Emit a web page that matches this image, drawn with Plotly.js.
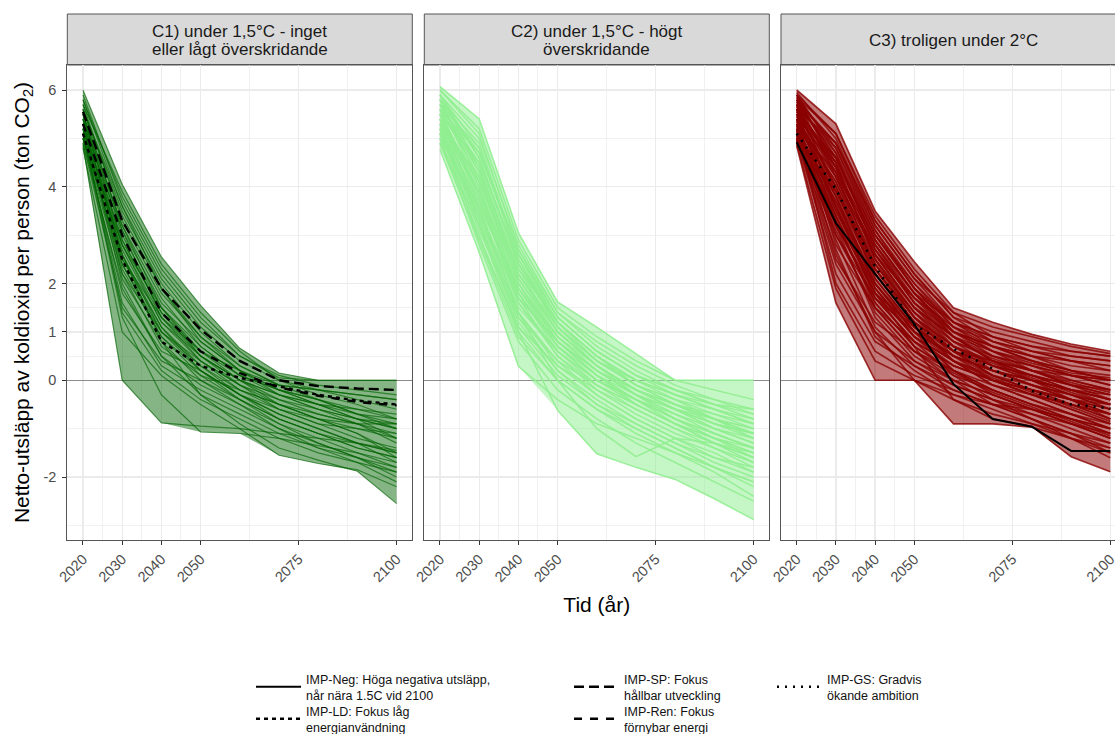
<!DOCTYPE html>
<html><head><meta charset="utf-8">
<script src="https://cdn.plot.ly/plotly-3.0.1.min.js"></script>
<style>html,body{margin:0;padding:0;background:#fff}#chart{width:1115px;height:734px}</style>
</head><body><div id="chart"></div>
<script>
// ---------- DATA ----------
const years = [2020, 2030, 2040, 2050, 2060, 2070, 2080, 2090, 2100];
const xTickVals = [2020, 2030, 2040, 2050, 2075, 2100];
const xMinorVals = [2025, 2035, 2045, 2062.5, 2087.5];
const yTickVals = [-2, 0, 1, 2, 4, 6];
const yMinorVals = [-3, -1, 0.5, 1.5, 3, 5];
const stripLines = [
  ["C1) under 1,5°C - inget", "eller lågt överskridande"],
  ["C2) under 1,5°C - högt", "överskridande"],
  ["C3) troligen under 2°C"]
];
const xTitle = "Tid (år)";
const yTitle = "Netto-utsläpp av koldioxid per person (ton CO<sub>2</sub>)";

const c1Paths = [
  [6.00, 4.05, 2.55, 1.55, 0.66, 0.15, 0.00, 0.00, 0.00],
  [4.85, 0.00, -0.88, -0.95, -1.00, -1.10, -1.20, -1.30, -1.45],
  [5.10, 1.30, -0.30, -1.07, -1.10, -1.20, -1.35, -1.50, -1.70],
  [5.30, 2.60, 0.80, -0.30, -0.90, -1.40, -1.65, -1.88, -2.55],
  [4.80, 1.00, 0.10, -0.50, -1.00, -1.55, -1.72, -1.85, -2.20],
  [5.80, 3.80, 2.30, 1.30, 0.50, 0.05, 0.00, 0.00, 0.00],
  [5.60, 3.50, 2.00, 1.00, 0.30, -0.10, -0.20, -0.30, -0.40],
  [5.40, 3.20, 1.70, 0.70, 0.10, -0.30, -0.50, -0.60, -0.70],
  [5.20, 2.90, 1.40, 0.50, 0.00, -0.40, -0.70, -0.90, -1.10],
  [5.00, 2.40, 1.00, 0.30, -0.20, -0.50, -0.80, -1.00, -1.20],
  [5.50, 3.00, 1.50, 0.60, 0.10, -0.20, -0.40, -0.70, -0.90],
  [5.70, 3.30, 1.80, 0.90, 0.20, -0.30, -0.60, -0.90, -1.30],
  [5.10, 2.20, 0.70, 0.10, -0.40, -0.80, -1.10, -1.40, -1.60],
  [5.30, 2.00, 0.50, -0.10, -0.50, -0.90, -1.20, -1.50, -1.80],
  [5.00, 1.80, 0.60, 0.20, -0.30, -0.70, -1.00, -1.30, -1.50],
  [5.60, 3.60, 2.10, 1.10, 0.40, 0.00, -0.30, -0.50, -0.80],
  [5.20, 2.70, 1.20, 0.40, -0.10, -0.60, -0.90, -1.20, -1.40],
  [5.40, 2.50, 1.10, 0.20, -0.30, -0.70, -1.00, -1.30, -1.70],
  [5.90, 3.70, 2.20, 1.20, 0.50, 0.10, -0.10, -0.20, -0.30],
  [5.10, 1.60, 0.30, -0.20, -0.60, -1.00, -1.30, -1.60, -1.90],
  [5.50, 2.80, 1.30, 0.40, -0.20, -0.60, -0.90, -1.00, -1.10],
  [5.30, 3.10, 1.60, 0.80, 0.20, -0.20, -0.50, -0.80, -1.00],
  [4.90, 1.50, 0.40, 0.00, -0.40, -0.80, -1.10, -1.40, -1.60],
  [5.20, 2.30, 0.90, 0.20, -0.40, -0.90, -1.30, -1.60, -2.00],
  [5.60, 3.40, 1.90, 0.90, 0.30, -0.10, -0.40, -0.70, -1.00],
  [5.00, 2.10, 0.80, 0.00, -0.50, -1.00, -1.40, -1.70, -2.10],
  [5.40, 2.90, 1.40, 0.60, 0.00, -0.50, -0.80, -1.10, -1.50],
  [5.70, 3.90, 2.40, 1.40, 0.60, 0.00, -0.20, -0.40, -0.60],
  [5.10, 2.60, 1.10, 0.30, -0.30, -0.60, -0.80, -0.90, -0.90],
  [5.30, 2.20, 1.00, 0.40, -0.10, -0.40, -0.60, -0.80, -0.90],
  [4.90, 1.90, 0.50, -0.30, -0.70, -1.10, -1.40, -1.60, -1.80],
  [5.50, 3.20, 1.50, 0.50, -0.10, -0.50, -0.70, -0.90, -1.20],
  [5.20, 1.40, 0.20, -0.40, -0.80, -1.20, -1.50, -1.70, -1.90],
  [5.80, 3.60, 1.90, 0.80, 0.20, -0.20, -0.50, -0.80, -1.20],
  [5.00, 2.80, 1.20, 0.50, 0.00, -0.30, -0.50, -0.70, -0.80],
  [5.40, 2.40, 0.90, 0.10, -0.20, -0.50, -0.80, -1.10, -1.60],
  [5.60, 3.10, 1.30, 0.50, 0.00, -0.30, -0.60, -0.80, -1.00],
  [5.20, 2.80, 1.50, 0.70, 0.10, -0.20, -0.40, -0.60, -0.80],
  [5.50, 2.60, 1.00, 0.20, -0.30, -0.80, -1.10, -1.30, -1.50],
  [5.00, 2.50, 1.30, 0.60, 0.20, -0.10, -0.20, -0.30, -0.40]
];

const c2Paths = [
  [6.07, 5.40, 3.05, 1.62, 1.10, 0.55, 0.00, 0.00, 0.00],
  [4.77, 2.64, 0.29, -0.40, -0.90, -1.20, -1.50, -1.80, -2.10],
  [5.20, 3.20, 1.00, -0.62, -1.52, -1.80, -2.05, -2.45, -2.88],
  [5.40, 3.60, 1.40, 0.00, -1.00, -1.58, -1.20, -1.30, -1.50],
  [6.00, 5.20, 2.90, 1.50, 0.90, 0.40, 0.00, -0.20, -0.40],
  [5.90, 4.80, 2.60, 1.30, 0.60, 0.10, -0.30, -0.60, -0.90],
  [5.80, 4.60, 2.40, 1.10, 0.40, -0.10, -0.50, -0.80, -1.10],
  [5.70, 4.40, 2.20, 1.00, 0.30, -0.20, -0.60, -1.00, -1.30],
  [5.60, 4.20, 2.00, 0.80, 0.10, -0.40, -0.80, -1.10, -1.40],
  [5.50, 4.00, 1.80, 0.70, 0.00, -0.50, -0.90, -1.30, -1.60],
  [5.40, 3.80, 1.60, 0.50, -0.20, -0.70, -1.10, -1.40, -1.70],
  [5.30, 3.50, 1.40, 0.30, -0.30, -0.80, -1.20, -1.60, -1.90],
  [5.10, 3.30, 1.20, 0.20, -0.50, -1.00, -1.40, -1.80, -2.20],
  [5.00, 3.00, 1.00, 0.00, -0.60, -1.10, -1.50, -1.90, -2.40],
  [4.90, 2.90, 1.10, 0.30, -0.20, -0.60, -1.00, -1.30, -1.60],
  [5.80, 4.30, 2.30, 1.20, 0.50, 0.00, -0.40, -0.70, -1.00],
  [5.60, 4.70, 2.70, 1.40, 0.70, 0.20, -0.20, -0.50, -0.80],
  [5.90, 5.00, 2.80, 1.40, 0.80, 0.30, -0.10, -0.40, -0.70],
  [5.50, 3.70, 1.70, 0.80, 0.20, -0.30, -0.70, -1.00, -1.20],
  [5.30, 3.90, 2.10, 1.00, 0.30, -0.30, -0.80, -1.20, -1.50],
  [5.70, 4.50, 2.50, 1.20, 0.50, -0.10, -0.50, -0.90, -1.20],
  [5.20, 3.40, 1.50, 0.60, 0.00, -0.40, -0.70, -1.00, -1.30],
  [5.00, 3.60, 1.90, 0.90, 0.20, -0.30, -0.60, -0.90, -1.10],
  [5.40, 4.10, 2.20, 1.10, 0.40, -0.10, -0.40, -0.60, -0.80],
  [5.60, 3.80, 1.80, 0.60, -0.10, -0.60, -1.00, -1.40, -1.80],
  [5.80, 4.90, 2.60, 1.20, 0.50, 0.00, -0.30, -0.60, -0.90],
  [5.10, 3.10, 1.30, 0.40, -0.10, -0.50, -0.90, -1.20, -1.50],
  [5.90, 4.40, 2.10, 0.90, 0.20, -0.30, -0.70, -1.10, -1.40],
  [5.30, 3.30, 1.10, 0.10, -0.50, -0.90, -1.30, -1.70, -2.00],
  [5.50, 4.50, 2.40, 1.10, 0.40, 0.00, -0.30, -0.50, -0.60],
  [5.70, 4.00, 1.90, 0.70, 0.00, -0.40, -0.80, -1.20, -1.60],
  [5.20, 3.70, 1.80, 0.70, 0.10, -0.30, -0.60, -0.80, -1.00],
  [4.90, 3.20, 1.40, 0.40, -0.30, -0.80, -1.20, -1.50, -1.90],
  [6.00, 5.10, 2.70, 1.30, 0.60, 0.10, -0.20, -0.40, -0.60],
  [5.40, 3.50, 1.60, 0.60, 0.00, -0.40, -0.80, -1.10, -1.40],
  [5.60, 4.40, 2.30, 1.00, 0.30, -0.20, -0.60, -0.90, -1.10],
  [5.10, 3.50, 1.70, 0.80, 0.20, -0.20, -0.50, -0.80, -1.20],
  [5.80, 4.10, 2.00, 0.80, 0.10, -0.50, -0.90, -1.30, -1.70],
  [5.00, 2.80, 0.80, -0.20, -0.80, -1.30, -1.70, -2.10, -2.50],
  [5.30, 4.20, 2.20, 1.00, 0.30, -0.20, -0.50, -0.70, -0.90],
  [5.70, 4.80, 2.50, 1.10, 0.30, -0.20, -0.60, -1.00, -1.30],
  [5.50, 3.90, 1.90, 0.80, 0.10, -0.40, -0.90, -1.30, -1.60],
  [5.20, 2.90, 0.90, 0.00, -0.60, -1.00, -1.40, -1.80, -2.10],
  [5.90, 4.60, 2.40, 1.20, 0.40, -0.10, -0.40, -0.80, -1.10],
  [5.60, 4.30, 2.00, 0.90, 0.30, -0.20, -0.50, -0.80, -1.00],
  [5.40, 3.90, 1.70, 0.50, -0.10, -0.50, -0.90, -1.20, -1.40],
  [5.10, 3.40, 1.30, 0.20, -0.40, -0.90, -1.30, -1.60, -1.80],
  [5.80, 4.70, 2.60, 1.30, 0.60, 0.10, -0.20, -0.50, -0.70]
];

const c3Paths = [
  [6.00, 5.30, 3.50, 2.45, 1.50, 1.20, 0.95, 0.75, 0.60],
  [4.85, 1.60, 0.00, 0.00, -0.30, -0.50, -0.60, -0.80, -1.00],
  [5.00, 2.40, 1.00, 0.00, -0.90, -0.90, -0.97, -1.20, -1.40],
  [5.20, 3.40, 1.80, 0.70, -0.40, -0.80, -0.95, -1.58, -1.89],
  [5.90, 5.10, 3.30, 2.20, 1.30, 1.00, 0.80, 0.60, 0.50],
  [5.80, 4.90, 3.10, 2.00, 1.20, 0.80, 0.60, 0.40, 0.30],
  [5.70, 4.70, 3.00, 1.90, 1.10, 0.70, 0.40, 0.20, 0.00],
  [5.60, 4.50, 2.90, 1.80, 1.00, 0.60, 0.30, 0.00, -0.20],
  [5.50, 4.30, 2.70, 1.60, 0.90, 0.40, 0.10, -0.20, -0.40],
  [5.40, 4.10, 2.50, 1.40, 0.70, 0.30, 0.00, -0.30, -0.60],
  [5.30, 3.90, 2.30, 1.30, 0.60, 0.10, -0.20, -0.50, -0.80],
  [5.20, 3.70, 2.10, 1.10, 0.40, -0.10, -0.40, -0.70, -1.00],
  [5.10, 3.50, 1.90, 0.90, 0.20, -0.30, -0.60, -0.90, -1.20],
  [5.00, 3.20, 1.70, 0.80, 0.10, -0.40, -0.80, -1.10, -1.40],
  [4.95, 3.00, 1.50, 0.60, 0.00, -0.50, -0.80, -1.20, -1.60],
  [5.95, 5.00, 3.20, 2.10, 1.40, 1.10, 0.90, 0.70, 0.55],
  [5.85, 4.80, 3.00, 1.90, 1.20, 0.90, 0.70, 0.50, 0.40],
  [5.75, 4.60, 2.80, 1.70, 1.00, 0.70, 0.50, 0.30, 0.20],
  [5.65, 4.40, 2.60, 1.50, 0.90, 0.60, 0.40, 0.20, 0.10],
  [5.55, 4.20, 2.40, 1.40, 0.80, 0.50, 0.30, 0.10, -0.10],
  [5.45, 4.00, 2.20, 1.20, 0.60, 0.30, 0.10, -0.10, -0.30],
  [5.35, 3.80, 2.00, 1.00, 0.50, 0.20, -0.10, -0.30, -0.50],
  [5.25, 3.60, 1.80, 0.90, 0.40, 0.00, -0.30, -0.50, -0.70],
  [5.15, 3.30, 1.60, 0.70, 0.20, -0.20, -0.50, -0.70, -0.90],
  [5.05, 3.10, 1.40, 0.50, 0.00, -0.30, -0.60, -0.90, -1.10],
  [5.90, 4.70, 2.70, 1.60, 1.00, 0.70, 0.50, 0.40, 0.30],
  [5.80, 4.50, 2.50, 1.50, 0.90, 0.50, 0.30, 0.10, 0.00],
  [5.70, 4.30, 2.30, 1.30, 0.70, 0.40, 0.20, 0.00, -0.20],
  [5.60, 4.00, 2.10, 1.10, 0.50, 0.20, 0.00, -0.20, -0.40],
  [5.50, 3.80, 1.90, 0.90, 0.40, 0.10, -0.20, -0.40, -0.60],
  [5.40, 3.60, 1.70, 0.80, 0.30, 0.00, -0.30, -0.60, -0.90],
  [5.30, 3.40, 1.50, 0.60, 0.10, -0.20, -0.50, -0.80, -1.10],
  [5.20, 3.20, 1.30, 0.40, -0.10, -0.40, -0.70, -1.00, -1.30],
  [5.10, 2.90, 1.10, 0.30, -0.20, -0.50, -0.80, -1.10, -1.50],
  [5.00, 2.70, 0.90, 0.20, -0.30, -0.60, -0.90, -1.20, -1.50],
  [5.85, 5.10, 3.40, 2.30, 1.40, 0.90, 0.60, 0.40, 0.20],
  [5.75, 4.90, 3.20, 2.10, 1.20, 0.70, 0.40, 0.10, -0.10],
  [5.65, 4.80, 3.10, 1.90, 1.00, 0.50, 0.20, -0.10, -0.30],
  [5.55, 4.60, 2.90, 1.80, 0.90, 0.40, 0.10, -0.20, -0.50],
  [5.45, 4.40, 2.80, 1.60, 0.80, 0.30, 0.00, -0.30, -0.60],
  [5.35, 4.20, 2.60, 1.50, 0.70, 0.20, -0.10, -0.40, -0.70],
  [5.25, 4.00, 2.40, 1.30, 0.50, 0.00, -0.30, -0.60, -0.90],
  [5.15, 3.80, 2.20, 1.20, 0.40, -0.10, -0.40, -0.70, -1.00],
  [5.05, 3.60, 2.00, 1.00, 0.20, -0.20, -0.50, -0.80, -1.10],
  [4.95, 3.40, 1.80, 0.90, 0.30, 0.00, -0.20, -0.40, -0.60],
  [5.70, 3.90, 2.20, 1.20, 0.60, 0.30, 0.10, -0.10, -0.20],
  [5.50, 3.50, 1.90, 1.00, 0.50, 0.20, 0.00, -0.20, -0.30],
  [5.30, 3.00, 1.70, 1.00, 0.50, 0.20, 0.00, -0.20, -0.40],
  [5.10, 2.50, 1.20, 0.60, 0.20, -0.10, -0.30, -0.50, -0.70],
  [5.00, 2.20, 0.80, 0.30, -0.10, -0.40, -0.60, -0.80, -1.00],
  [5.40, 2.80, 1.50, 0.80, 0.30, 0.00, -0.20, -0.40, -0.50],
  [5.60, 3.20, 1.80, 1.10, 0.60, 0.40, 0.20, 0.10, 0.00],
  [5.80, 4.20, 2.60, 1.70, 1.10, 0.80, 0.60, 0.50, 0.40],
  [5.90, 4.40, 2.80, 1.80, 1.20, 0.90, 0.70, 0.60, 0.50],
  [5.20, 2.00, 0.60, 0.10, -0.20, -0.50, -0.70, -0.90, -1.20],
  [4.90, 1.90, 0.40, 0.00, -0.40, -0.70, -0.90, -1.10, -1.30],
  [5.60, 4.90, 3.30, 2.20, 1.30, 0.80, 0.50, 0.20, 0.00],
  [5.40, 4.60, 3.00, 2.00, 1.10, 0.60, 0.20, -0.10, -0.40],
  [5.20, 4.30, 2.70, 1.70, 0.90, 0.40, 0.00, -0.40, -0.80],
  [5.00, 3.90, 2.40, 1.40, 0.60, 0.10, -0.20, -0.50, -0.80],
  [5.30, 2.60, 1.00, 0.40, 0.00, -0.30, -0.60, -0.90, -1.20],
  [5.70, 3.60, 2.00, 1.10, 0.50, 0.10, -0.10, -0.30, -0.50],
  [5.50, 4.50, 2.50, 1.30, 0.70, 0.35, 0.05, -0.25, -0.50],
  [5.30, 4.10, 2.30, 1.20, 0.60, 0.20, -0.10, -0.40, -0.70],
  [5.10, 3.70, 2.00, 1.00, 0.40, 0.05, -0.25, -0.55, -0.85],
  [5.60, 4.40, 2.60, 1.50, 0.80, 0.45, 0.20, -0.05, -0.25],
  [5.80, 4.60, 2.90, 1.80, 1.00, 0.60, 0.35, 0.15, 0.05],
  [5.00, 3.30, 1.60, 0.70, 0.15, -0.25, -0.55, -0.85, -1.15]
];

// Illustrative pathways (black)
const impSP  = [5.55, 3.30, 1.90, 1.05, 0.40, 0.00, -0.12, -0.17, -0.20];
const impLD  = [5.10, 2.50, 0.80, 0.30, 0.05, -0.12, -0.30, -0.42, -0.50];
const impRen = [5.30, 3.00, 1.40, 0.60, 0.15, -0.15, -0.32, -0.45, -0.52];
const impNeg = [4.92, 3.25, 2.20, 1.16, -0.08, -0.80, -0.96, -1.46, -1.46];
const impGS  = [5.10, 3.95, 2.35, 1.15, 0.65, 0.24, -0.22, -0.50, -0.58];
const impLabels = {
  neg: "IMP-Neg: Höga negativa utsläpp,<br>når nära 1.5C vid 2100",
  ld:  "IMP-LD: Fokus låg<br>energianvändning",
  sp:  "IMP-SP: Fokus<br>hållbar utveckling",
  ren: "IMP-Ren: Fokus<br>förnybar energi",
  gs:  "IMP-GS: Gradvis<br>ökande ambition"
};

// ---------- LAYOUT / STYLE ----------
const W = 1115, H = 734;
const FONT = "Liberation Sans, Arial, Helvetica, sans-serif";
const panelPx = [[67.3, 412.3], [424.3, 769.3], [781, 1126]];
const panelTop = 65, panelBottom = 540, stripTop = 14;
const yRange = [-3.302, 6.517];
const fullXRange = [2016, 2104];

const panels = [
  {paths: c1Paths, xa: 'x',  ya: 'y',  line: 'rgba(0,100,0,0.65)',     lw: 1.2, fill: 'rgba(0,100,0,0.48)'},
  {paths: c2Paths, xa: 'x2', ya: 'y2', line: 'rgba(144,238,144,0.9)',  lw: 1.5, fill: 'rgba(144,238,144,0.52)'},
  {paths: c3Paths, xa: 'x3', ya: 'y3', line: 'rgba(139,0,0,0.8)',      lw: 1.7, fill: 'rgba(139,0,0,0.52)'}
];

const data = [];
function envelope(paths, fn) { return years.map((_, i) => fn(...paths.map(p => p[i]))); }
panels.forEach(pn => {
  const upper = envelope(pn.paths, Math.max);
  const lower = envelope(pn.paths, Math.min);
  data.push({
    type: 'scatter', mode: 'lines',
    x: years.concat(years.slice().reverse()),
    y: upper.concat(lower.slice().reverse()),
    fill: 'toself', fillcolor: pn.fill, line: {width: 0, color: pn.fill},
    xaxis: pn.xa, yaxis: pn.ya, showlegend: false, hoverinfo: 'skip'
  });
  pn.paths.forEach(p => data.push({
    type: 'scatter', mode: 'lines', x: years, y: p,
    line: {color: pn.line, width: pn.lw}, xaxis: pn.xa, yaxis: pn.ya,
    showlegend: false, hoverinfo: 'skip'
  }));
});

const impTraces = [
  {y: impSP,  name: impLabels.sp,  p: 0, dash: '10px,5px', width: 2.4, legend: 'legend3'},
  {y: impRen, name: impLabels.ren, p: 0, dash: '8px,8px',  width: 2.4, legend: 'legend4'},
  {y: impLD,  name: impLabels.ld,  p: 0, dash: '4px,4px',  width: 2.4, legend: 'legend2'},
  {y: impNeg, name: impLabels.neg, p: 2, dash: 'solid',    width: 2.0, legend: 'legend'},
  {y: impGS,  name: impLabels.gs,  p: 2, dash: '2px,6px',  width: 2.6, legend: 'legend5'}
];
impTraces.forEach(t => data.push({
  type: 'scatter', mode: 'lines', x: years, y: t.y, name: t.name,
  line: {color: '#000', width: t.width, dash: t.dash},
  xaxis: panels[t.p].xa, yaxis: panels[t.p].ya, legend: t.legend, showlegend: true
}));

const gridCol = '#EBEBEB';
function xAxis(i) {
  const dom = [panelPx[i][0] / W, Math.min(1, panelPx[i][1] / W)];
  const range = i === 2 ? [2016, 2016 + 88 * (W - panelPx[i][0]) / (panelPx[i][1] - panelPx[i][0])] : fullXRange;
  return {
    domain: dom, range: range, anchor: panels[i].ya,
    tickmode: 'array', tickvals: xTickVals, ticktext: xTickVals.map(String),
    tickangle: -45, ticks: 'outside', ticklen: 4, tickwidth: 1, tickcolor: '#333',
    tickfont: {family: FONT, size: 14.5, color: '#4D4D4D'},
    ticklabeloverflow: 'allow',
    showgrid: true, gridcolor: gridCol, gridwidth: 1.3,
    minor: {tickvals: xMinorVals, showgrid: true, gridcolor: gridCol, gridwidth: 0.7, ticks: ''},
    showline: true, mirror: true, linecolor: '#555', linewidth: 1,
    zeroline: false, fixedrange: true, automargin: false
  };
}
function yAxis(i) {
  return {
    domain: [(H - panelBottom) / H, (H - panelTop) / H], range: yRange,
    anchor: panels[i].xa,
    tickmode: 'array', tickvals: yTickVals, ticktext: yTickVals.map(String),
    ticks: i === 0 ? 'outside' : '', ticklen: 4, tickwidth: 1, tickcolor: '#333',
    showticklabels: i === 0, ticklabelstandoff: 3,
    tickfont: {family: FONT, size: 14.5, color: '#4D4D4D'},
    showgrid: true, gridcolor: gridCol, gridwidth: 1.3,
    minor: {tickvals: yMinorVals, showgrid: true, gridcolor: gridCol, gridwidth: 0.7, ticks: ''},
    showline: true, mirror: i !== 2, linecolor: '#555', linewidth: 1,
    zeroline: true, zerolinecolor: '#8C8C8C', zerolinewidth: 1.2,
    fixedrange: true, automargin: false
  };
}

const shapes = [];
const annotations = [];
panelPx.forEach((px, i) => {
  shapes.push({type: 'rect', xref: 'paper', yref: 'paper',
    x0: px[0] / W, x1: px[1] / W, y0: (H - panelTop) / H, y1: (H - stripTop) / H,
    fillcolor: '#D9D9D9', line: {color: '#555', width: 1}, layer: 'below'});
  const cx = (px[0] + px[1]) / 2 / W;
  const lines = stripLines[i];
  const ys = lines.length === 2 ? [31.5, 49] : [40];
  lines.forEach((txt, k) => annotations.push({
    text: txt, xref: 'paper', yref: 'paper', x: cx, y: 1 - ys[k] / H,
    xanchor: 'center', yanchor: 'middle', showarrow: false,
    font: {family: FONT, size: 17, color: '#1A1A1A'}
  }));
});

function legendAt(xpx, ypx) {
  return {x: xpx / W, y: 1 - ypx / H, xref: 'paper', yref: 'paper',
    xanchor: 'left', yanchor: 'middle',
    orientation: 'v', bgcolor: 'rgba(0,0,0,0)', borderwidth: 0,
    font: {family: FONT, size: 12.5, color: '#111'}, itemwidth: 45, valign: 'middle'};
}

const layout = {
  width: W, height: H,
  margin: {l: 0, r: 0, t: 0, b: 0, pad: 0, autoexpand: false},
  paper_bgcolor: '#fff', plot_bgcolor: '#fff',
  font: {family: FONT, color: '#1A1A1A'},
  xaxis: xAxis(0),
  xaxis2: Object.assign(xAxis(1), {title: {text: xTitle, font: {family: FONT, size: 21, color: '#000'}, standoff: 13}}),
  xaxis3: xAxis(2),
  yaxis: Object.assign(yAxis(0), {title: {text: yTitle, font: {family: FONT, size: 21, color: '#000'}, standoff: 8}}),
  yaxis2: yAxis(1), yaxis3: yAxis(2),
  shapes: shapes, annotations: annotations,
  legend: legendAt(251, 687),
  legend2: legendAt(251, 719),
  legend3: legendAt(569, 687),
  legend4: legendAt(569, 719),
  legend5: legendAt(772, 687),
  hovermode: false
};

Plotly.newPlot('chart', data, layout, {displayModeBar: false, staticPlot: true});
</script>
</body></html>
